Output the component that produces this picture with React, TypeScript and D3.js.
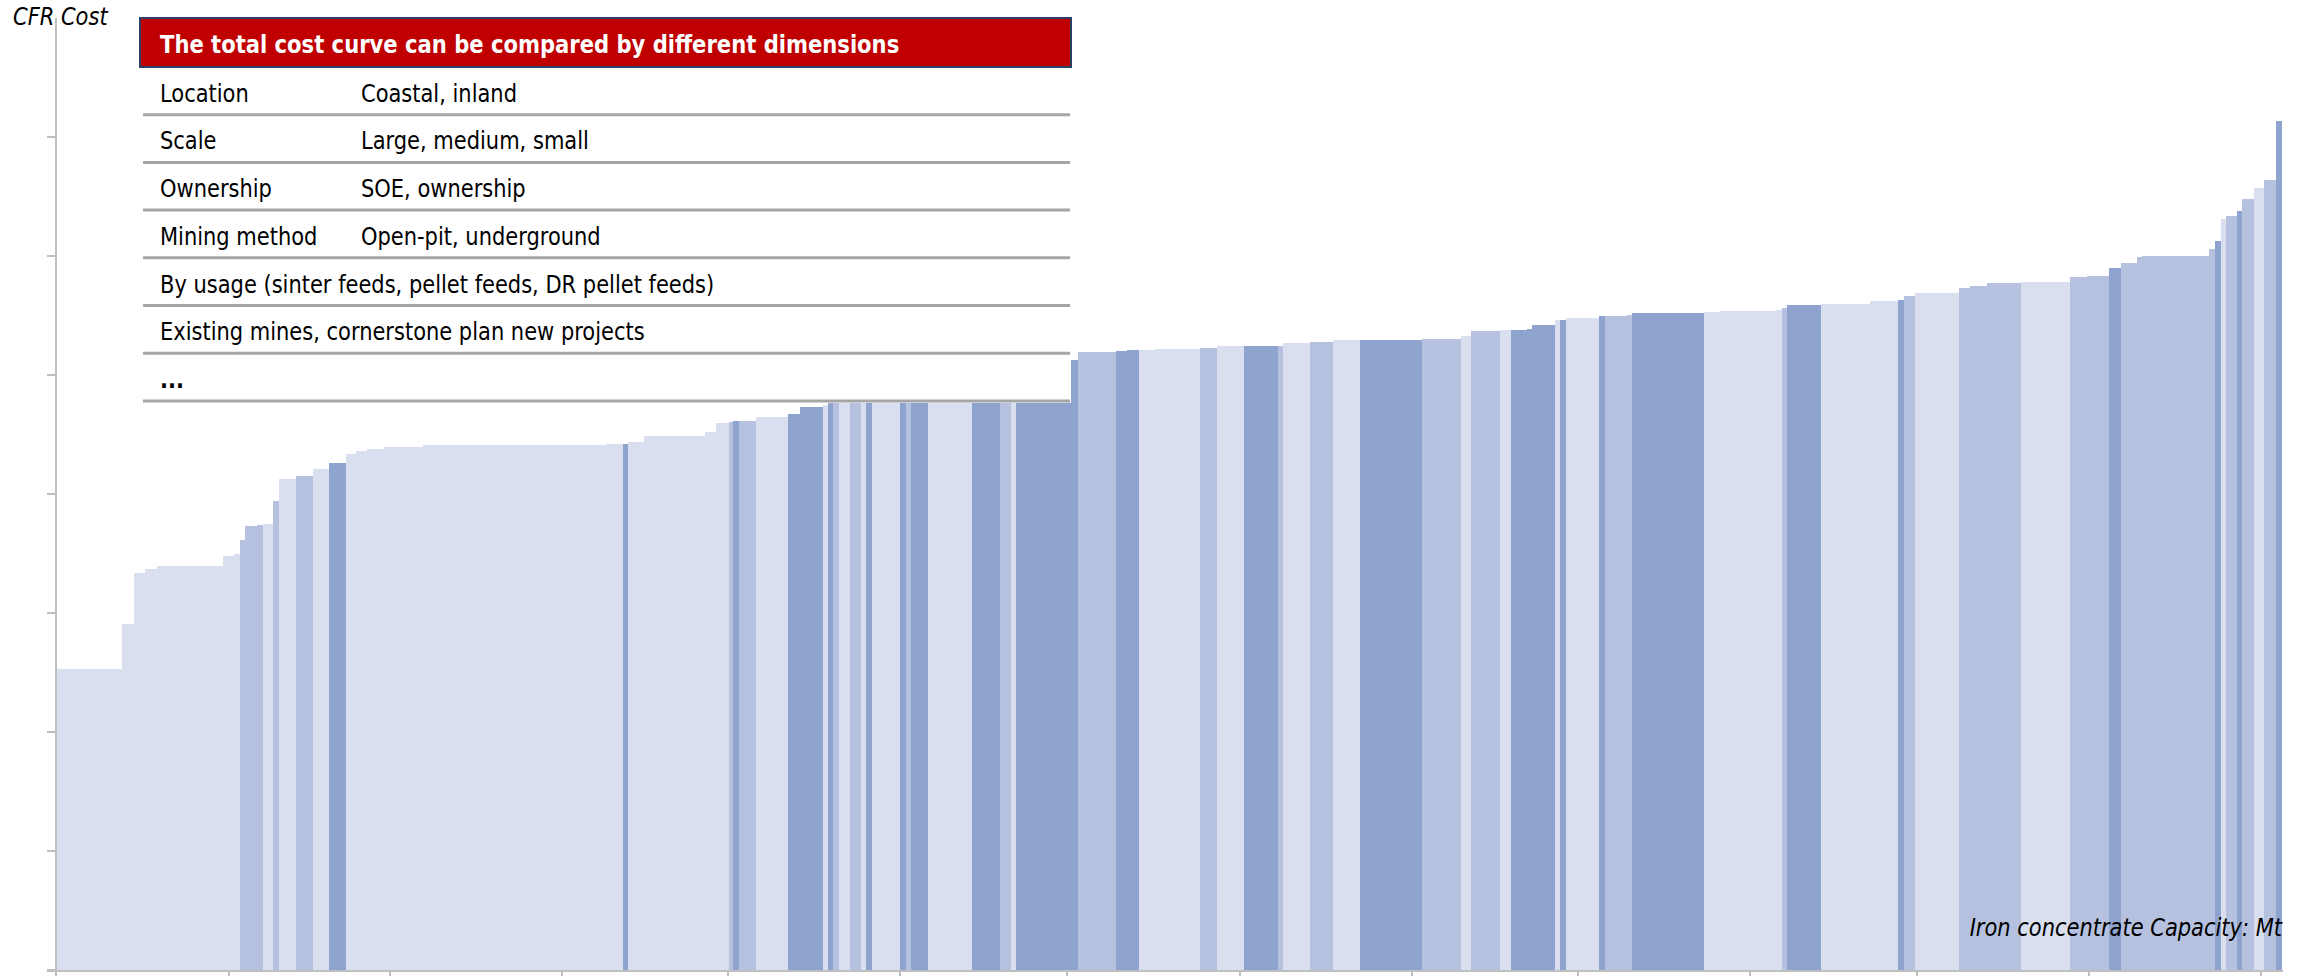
import React, { useEffect } from 'react';
import * as d3 from 'd3';

// Iron concentrate capacity (Mt) of each mine, sorted by CFR cost
const CAPACITY = [
  39.2, 6.8, 6.7, 6.8, 38.9, 6.5, 3.5, 2.9, 7.1, 3.5,
  5.9, 3.5, 10.0, 10.0, 9.4, 10.0, 5.9, 6.5, 10.0, 23.0,
  107.9, 10.0, 3.5, 9.4, 36.0, 6.5, 7.1, 2.9, 3.5, 10.0,
  18.9, 7.1, 13.6, 2.4, 3.5, 3.5, 6.5, 6.5, 2.9, 3.5,
  16.5, 3.5, 2.9, 10.0, 25.9, 16.5, 6.5, 2.9, 31.8, 4.7,
  22.4, 6.5, 7.1, 9.4, 26.5, 2.9, 7.1, 15.9, 20.0, 2.9,
  15.9, 6.5, 7.1, 15.9, 36.6, 23.0, 5.9, 17.1, 6.5, 9.4,
  2.9, 13.6, 2.9, 3.5, 19.5, 3.5, 13.0, 2.9, 43.0, 9.4,
  33.0, 3.5, 2.9, 20.0, 28.9, 16.5, 3.5, 6.5, 25.9, 6.5,
  10.0, 20.0, 28.9, 10.0, 13.0, 7.1, 9.4, 2.9, 39.5, 3.5,
  3.5, 2.9, 6.5, 2.9, 7.1, 5.9, 7.1, 3.5,
];

// CFR cost of each mine
const COST = [
  50.6, 58.2, 66.7, 67.4, 67.9, 69.6, 69.9, 72.3, 74.6, 74.8,
  75.0, 78.8, 82.5, 83.0, 84.2, 85.2, 86.7, 87.2, 87.5, 87.9,
  88.2, 88.4, 88.4, 88.7, 89.7, 90.4, 91.9, 92.1, 92.3, 92.3,
  92.9, 93.4, 94.6, 95.0, 95.3, 95.6, 96.1, 96.6, 97.1, 97.5,
  98.2, 98.7, 99.2, 99.7, 100.2, 100.8, 101.3, 101.7, 102.2, 102.5,
  103.9, 104.0, 104.2, 104.2, 104.3, 104.5, 104.6, 104.8, 104.8, 104.8,
  105.3, 105.5, 105.6, 105.9, 105.9, 106.1, 106.6, 107.4, 107.6, 107.6,
  107.8, 108.4, 109.2, 109.2, 109.6, 109.9, 109.9, 110.1, 110.4, 110.6,
  110.7, 110.9, 111.3, 111.8, 112.0, 112.4, 112.6, 113.3, 113.8, 114.6,
  115.0, 115.5, 115.6, 116.5, 116.6, 118.0, 118.8, 119.8, 120.0, 121.2,
  122.5, 126.3, 126.8, 127.6, 129.6, 131.5, 132.8, 142.7,
];

// Category of each mine (0 = light, 1 = medium, 2 = dark)
const GROUP = [
  0, 0, 0, 0, 0, 0, 0, 1, 1, 1,
  0, 1, 0, 1, 0, 2, 0, 0, 0, 0,
  0, 0, 2, 0, 0, 0, 0, 1, 2, 1,
  0, 2, 2, 0, 2, 1, 0, 1, 0, 2,
  0, 2, 1, 2, 0, 2, 1, 0, 2, 2,
  1, 2, 2, 0, 0, 1, 1, 0, 2, 1,
  0, 1, 1, 0, 2, 1, 0, 1, 0, 2,
  2, 2, 0, 2, 0, 2, 1, 1, 2, 0,
  0, 0, 1, 2, 0, 0, 2, 1, 0, 1,
  1, 1, 0, 1, 1, 2, 1, 1, 1, 1,
  2, 0, 1, 2, 1, 0, 1, 2,
];

const X_MAX = 1313;
const Y_MAX = 160;
const X_TICKS = [0, 101.8, 196.7, 298.2, 396.0, 497.9, 595.8, 698.0, 799.5, 897.4, 998.8, 1097.3, 1198.7, 1299.9];
const Y_TICKS = [0, 20, 40, 60, 80, 100, 120, 140];

const Y_TITLE = 'CFR Cost';
const X_TITLE = 'Iron concentrate Capacity: Mt';
const TABLE_TITLE = 'The total cost curve can be compared by different dimensions';
const DIM_NAMES = [
  'Location',
  'Scale',
  'Ownership',
  'Mining method',
  'By usage (sinter feeds, pellet feeds, DR pellet feeds)',
  'Existing mines, cornerstone plan new projects',
  '...',
];
const DIM_VALUES = [
  'Coastal, inland',
  'Large, medium, small',
  'SOE, ownership',
  'Open-pit, underground',
  '',
  '',
  '',
];

const GROUP_COLORS = ['#D9DFEF', '#B6C1DF', '#8FA3CF'];
const AXIS_COLOR = '#BFBFBF';
const FONT = 'DejaVu Sans, Verdana, sans-serif';
const SX = 0.875;

export default function App() {
  useEffect(() => {
    document.body.style.margin = '0';
    document.body.style.overflow = 'hidden';
  }, []);

  const W = 2311;
  const H = 976;
  const left = 56;
  const right = 2283;
  const bottom = 970;
  const top = 18;

  const x = d3.scaleLinear().domain([0, X_MAX]).range([left, right]);
  const y = d3.scaleLinear().domain([0, Y_MAX]).range([bottom, top]);
  const starts = [0, ...Array.from(d3.cumsum(CAPACITY))];

  // table layout
  const tL = 140;
  const tR = 1071;
  const tTop = 18;
  const headH = 49;
  const rowH = 47.7;
  const rowTop = tTop + headH;
  const col1 = 160;
  const col2 = 361;

  return (
    <div style={{ position: 'fixed', left: 0, top: 0, width: W, height: H, background: '#fff' }}>
      <svg width={W} height={H} style={{ display: 'block' }}>
        <rect x={0} y={0} width={W} height={H} fill="#fff" />
        {/* bars */}
        <g shapeRendering="crispEdges">
          {COST.map((c, i) => {
            const x0 = x(starts[i]);
            const x1 = x(starts[i + 1]);
            return (
              <rect
                key={i}
                x={x0}
                y={y(c)}
                width={Math.max(0.5, x1 - x0 + 0.4)}
                height={y(0) - y(c)}
                fill={GROUP_COLORS[GROUP[i]]}
              />
            );
          })}
        </g>
        {/* axes */}
        <g stroke={AXIS_COLOR} shapeRendering="crispEdges">
          <line x1={left} x2={left} y1={top} y2={bottom + 1} strokeWidth={2} />
          <line x1={left - 9} x2={right} y1={bottom + 0.5} y2={bottom + 0.5} strokeWidth={2} />
          {Y_TICKS.map((t) => (
            <line key={'y' + t} x1={left - 9} x2={left} y1={y(t)} y2={y(t)} strokeWidth={2} />
          ))}
          {X_TICKS.map((t) => (
            <line key={'x' + t} x1={x(t)} x2={x(t)} y1={bottom} y2={bottom + 8} strokeWidth={2} />
          ))}
        </g>
        {/* axis titles */}
        <text
          transform={`translate(13,25) scale(${SX},1)`}
          fontFamily={FONT}
          fontStyle="italic"
          fontSize={24}
          fill="#000"
        >
          {Y_TITLE}
        </text>
        <text
          transform={`translate(2282,936) scale(${SX},1)`}
          fontFamily={FONT}
          fontStyle="italic"
          fontSize={24}
          textAnchor="end"
          fill="#000"
        >
          {X_TITLE}
        </text>
        {/* table */}
        <rect x={tL} y={tTop} width={tR - tL} height={rowTop - tTop + rowH * DIM_NAMES.length + 2} fill="#fff" />
        <rect
          x={tL}
          y={tTop}
          width={tR - tL}
          height={headH}
          fill="#C00000"
          stroke="#2E3F66"
          strokeWidth={2}
        />
        <text
          transform={`translate(${col1},53) scale(0.88,1)`}
          fontFamily={FONT}
          fontWeight="bold"
          fontSize={24}
          fill="#fff"
        >
          {TABLE_TITLE}
        </text>
        {DIM_NAMES.map((name, i) => {
          const lineY = rowTop + rowH * (i + 1);
          const base = lineY - 13;
          return (
            <g key={i}>
              <line x1={tL + 3} x2={tR - 1} y1={lineY} y2={lineY} stroke="#A6A6A6" strokeWidth={3} />
              <text
                transform={`translate(${col1},${base}) scale(${SX},1)`}
                fontFamily={FONT}
                fontSize={24}
                fontWeight={name === '...' ? 'bold' : 'normal'}
                fill="#000"
              >
                {name}
              </text>
              {DIM_VALUES[i] ? (
                <text
                  transform={`translate(${col2},${base}) scale(${SX},1)`}
                  fontFamily={FONT}
                  fontSize={24}
                  fill="#000"
                >
                  {DIM_VALUES[i]}
                </text>
              ) : null}
            </g>
          );
        })}
      </svg>
    </div>
  );
}
